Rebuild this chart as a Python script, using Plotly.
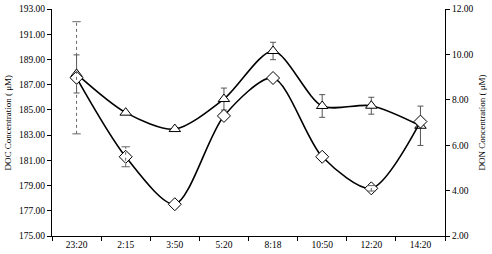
import plotly.graph_objects as go

times = ["23:20", "2:15", "3:50", "5:20", "8:18", "10:50", "12:20", "14:20"]
doc_values = [187.85, 184.78, 183.48, 185.86, 189.67, 185.31, 185.33, 183.74]
doc_err = [1.51, 0.0, 0.0, 0.87, 0.69, 0.9, 0.67, 1.56]
don_values = [8.97, 5.49, 3.40, 7.29, 8.96, 5.49, 4.10, 7.04]
don_err = [2.47, 0.44, 0.0, 0.0, 0.0, 0.0, 0.12, 0.0]

font_family = "Liberation Serif"

fig = go.Figure()

fig.add_trace(go.Scatter(
    x=times, y=don_values, yaxis="y2", mode="lines+markers", name="DON",
    line=dict(color="black", width=1.6, shape="spline", smoothing=0.8),
    marker=dict(symbol="diamond", size=10, color="white",
                line=dict(color="black", width=1)),
    showlegend=False))

# dotted error bars for DON
ex, ey = [], []
cx, cy = [], []
for t, v, e in zip(times, don_values, don_err):
    if e > 0:
        ex += [t, t, None]
        ey += [v - e, v + e, None]
        cx += [t, t]
        cy += [v - e, v + e]
fig.add_trace(go.Scatter(x=ex, y=ey, yaxis="y2", mode="lines",
                         line=dict(color="#666666", width=1, dash="dot"),
                         showlegend=False, hoverinfo="skip"))
fig.add_trace(go.Scatter(x=cx, y=cy, yaxis="y2", mode="markers",
                         marker=dict(symbol="line-ew", size=6,
                                     line=dict(color="#666666", width=1)),
                         showlegend=False, hoverinfo="skip"))

fig.add_trace(go.Scatter(
    x=times, y=doc_values, mode="lines+markers", name="DOC",
    line=dict(color="black", width=1.6, shape="spline", smoothing=0.8),
    marker=dict(symbol="triangle-up", size=10, color="white",
                line=dict(color="black", width=1)),
    error_y=dict(type="data", array=doc_err, visible=True,
                 color="#555555", thickness=1, width=3),
    showlegend=False))

tick_font = dict(family=font_family, size=9.5, color="black")

fig.update_layout(
    width=492, height=254,
    margin=dict(l=52, r=47, t=9, b=18, autoexpand=False),
    paper_bgcolor="white", plot_bgcolor="white",
    font=dict(family=font_family, size=9, color="black"),
    xaxis=dict(type="category", categoryorder="array", categoryarray=times,
               range=[-0.5, 7.5], showline=True,
               linecolor="black", linewidth=1, ticks="outside",
               tickson="boundaries", ticklen=4, tickcolor="black",
               showgrid=False, zeroline=False, tickfont=tick_font),
    yaxis=dict(range=[175, 193], tickvals=list(range(175, 194, 2)),
               tickformat=".2f", showline=True, linecolor="black",
               linewidth=1, ticks="outside", ticklen=4, tickcolor="black",
               showgrid=False, zeroline=False, tickfont=tick_font),
    yaxis2=dict(range=[2, 12], tickvals=list(range(2, 13, 2)),
                tickformat=".2f", overlaying="y", side="right",
                showline=True, linecolor="black", linewidth=1,
                ticks="outside", ticklen=4, tickcolor="black",
                showgrid=False, zeroline=False, tickfont=tick_font),
    annotations=[
        dict(text="DOC Concentration ( μM)", xref="paper", yref="paper",
             x=-0.112, y=0.5, xanchor="center", yanchor="middle",
             textangle=-90, showarrow=False,
             font=dict(family=font_family, size=9, color="black")),
        dict(text="DON Concentration ( μM)", xref="paper", yref="paper",
             x=1.094, y=0.5, xanchor="center", yanchor="middle",
             textangle=-90, showarrow=False,
             font=dict(family=font_family, size=9, color="black")),
    ],
)

fig.write_html("out.html",
               config={"displayModeBar": False},
               post_script="document.body.style.margin='0';")
